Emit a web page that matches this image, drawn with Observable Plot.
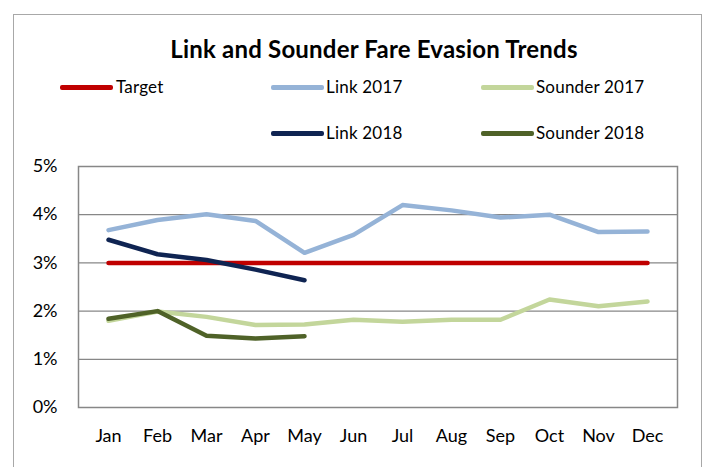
<!DOCTYPE html>
<html>
<head>
<meta charset="utf-8">
<script src="https://cdn.jsdelivr.net/npm/d3@7"></script>
<script src="https://cdn.jsdelivr.net/npm/@observablehq/plot@0.6"></script>
<style>
  html, body { margin: 0; padding: 0; background: #fff; }
  #wrap { position: relative; width: 708px; height: 467px; overflow: hidden; font-family: Lato, "Open Sans", sans-serif; color: #000; }
  #border { position: absolute; left: 13px; top: 14px; width: 689px; height: 470px; border: 1.5px solid #a8a8a8; box-sizing: border-box; }
  #title { position: absolute; left: 0; width: 748px; top: 34px; text-align: center; font-size: 24px; font-weight: 700; letter-spacing: 0.2px; line-height: 30px; }
  .leg { position: absolute; font-size: 17px; line-height: 20px; white-space: nowrap; letter-spacing: 0.2px; }
  .leg .sw { position: absolute; height: 4.5px; border-radius: 2px; }
  #chart { position: absolute; left: 0; top: 150px; }
</style>
</head>
<body>
<div id="wrap">
  <div id="border"></div>
  <div id="title">Link and Sounder Fare Evasion Trends</div>
  <div id="legend"></div>
  <div id="chart"></div>
</div>
<script>
const months = ["Jan","Feb","Mar","Apr","May","Jun","Jul","Aug","Sep","Oct","Nov","Dec"];
const seriesNames = ["Target","Link 2017","Sounder 2017","Link 2018","Sounder 2018"];
const seriesColors = ["#C00000","#95B3D7","#C3D69B","#0F2452","#4F6228"];
const target     = [3.0,3.0,3.0,3.0,3.0,3.0,3.0,3.0,3.0,3.0,3.0,3.0];
const link2017   = [3.68,3.89,4.01,3.87,3.21,3.58,4.20,4.09,3.94,4.00,3.64,3.65];
const sounder2017= [1.80,1.99,1.88,1.71,1.72,1.82,1.78,1.82,1.82,2.24,2.10,2.20];
const link2018   = [3.48,3.18,3.06,2.86,2.64,null,null,null,null,null,null,null];
const sounder2018= [1.84,2.00,1.49,1.43,1.48,null,null,null,null,null,null,null];
const yTicks = [0,0.01,0.02,0.03,0.04,0.05];

const seriesValues = [target, link2017, sounder2017, link2018, sounder2018];
const rows = [];
seriesNames.forEach((name, i) => {
  seriesValues[i].forEach((v, j) => {
    if (v != null) rows.push({series: name, month: months[j], value: v / 100});
  });
});

// legend (HTML)
const legendLayout = [
  {name: "Target", lx: 60, tx: 116, y: 87},
  {name: "Link 2017", lx: 271, tx: 326, y: 87},
  {name: "Sounder 2017", lx: 481, tx: 536, y: 87},
  {name: "Link 2018", lx: 271, tx: 326, y: 133},
  {name: "Sounder 2018", lx: 481, tx: 536, y: 133}
];
const legend = document.getElementById("legend");
legendLayout.forEach(e => {
  const c = seriesColors[seriesNames.indexOf(e.name)];
  const sw = document.createElement("div");
  sw.className = "leg";
  sw.innerHTML = `<div class="sw" style="left:${e.lx}px;top:${e.y - 2}px;width:53px;background:${c}"></div>`;
  legend.appendChild(sw);
  const t = document.createElement("div");
  t.className = "leg";
  t.style.left = e.tx + "px";
  t.style.top = (e.y - 10) + "px";
  t.textContent = e.name;
  legend.appendChild(t);
});

const chart = Plot.plot({
  width: 708,
  height: 317,
  marginLeft: 78,
  marginRight: 31,
  marginTop: 16,
  marginBottom: 60,
  style: {fontFamily: "Lato, 'Open Sans', sans-serif", fontSize: "18px", color: "#000", background: "transparent"},
  x: {type: "point", domain: months, padding: 0.5, label: null, tickSize: 0, tickPadding: 22},
  y: {domain: [0, 0.05], ticks: yTicks, tickFormat: d3.format(".0%"), label: null, tickSize: 0, tickPadding: 21},
  color: {domain: seriesNames, range: seriesColors},
  marks: [
    Plot.gridY(yTicks.slice(1, -1), {stroke: "#878787", strokeOpacity: 1, strokeWidth: 1.3}),
    Plot.frame({stroke: "#878787", strokeWidth: 1.5}),
    ...seriesNames.map(name => Plot.lineY(rows.filter(r => r.series === name), {
      x: "month", y: "value", stroke: "series", strokeWidth: 4.5,
      strokeLinecap: "round", strokeLinejoin: "round"
    }))
  ]
});
document.getElementById("chart").appendChild(chart);
</script>
</body>
</html>
